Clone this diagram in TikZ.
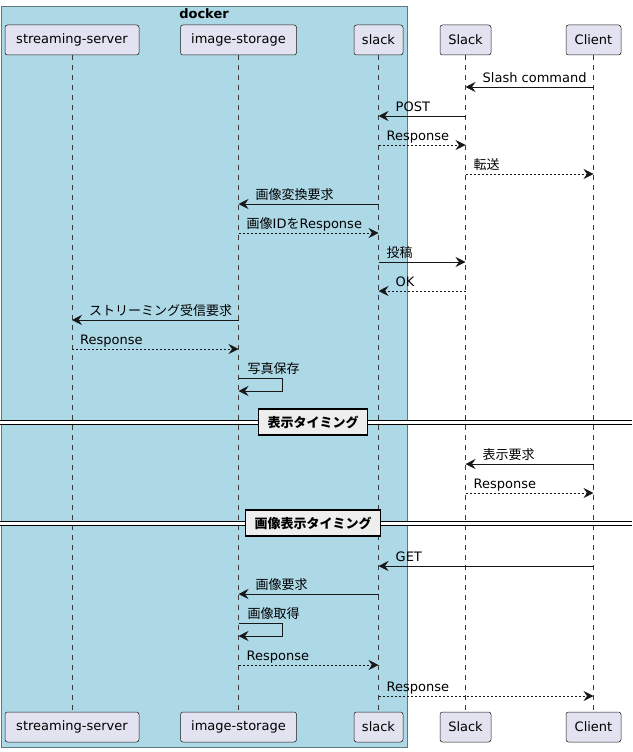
\documentclass[tikz,border=0pt]{standalone}
\usepackage{fontspec}
\setmainfont{DejaVu Sans}
\newfontfamily\jp{Noto Sans CJK JP}
\usetikzlibrary{
  arrows.meta,
  positioning,
  calc
}
\definecolor{partfill}{HTML}{E2E2F0}
\definecolor{partline}{HTML}{181818}
\definecolor{dockerfill}{HTML}{ADD8E6}
\definecolor{dockerline}{RGB}{95,120,130}
\definecolor{divfill}{HTML}{EEEEEE}
\tikzset{
  part/.style={
    rectangle, rounded corners=2.5pt,
    fill=partfill, draw=partline, line width=0.5pt,
    minimum width=#1, minimum height=30pt, inner sep=0pt,
    font=\fontsize{13}{15}\selectfont
  },
  life/.style={draw=partline!85, line width=0.5pt, dash pattern=on 5pt off 5pt},
  call/.style={-{Stealth[length=10pt,width=10pt,inset=3.5pt]}, draw=partline, line width=1pt},
  ret/.style={call, dash pattern=on 2pt off 2pt},
  lbl/.style={anchor=base west, inner sep=0pt, font=\fontsize{13}{15}\selectfont},
  divider/.style={
    rectangle, fill=divfill, draw=black, line width=1.6pt,
    inner xsep=9pt, minimum height=26pt,
    font=\bfseries\fontsize{13}{15}\selectfont
  }
}
\begin{document}
\begin{tikzpicture}[x=1pt,y=-1pt]
  \useasboundingbox (0,0) rectangle (632,752);

  %% docker box
  \draw[fill=dockerfill, draw=dockerline, line width=0.8pt] (1.5,6) rectangle (407,747);
  \node[font=\bfseries\fontsize{13}{15}\selectfont] (docker) at (204,14) {docker};

  %% Participants
  \foreach \p/\x/\w/\t in {ss/72/134/streaming-server, is/238.5/116/image-storage,
      sk/378.5/49/slack, SL/465.5/51/Slack, CL/593.5/55/Client}{
    \node[part=\w pt] (\p) at (\x,40) {\t};
    \node[part=\w pt] (\p-b) at (\x,727) {\t};
    \draw[life] (\p.south) -- (\p-b.north);
  }

  %% Messages to the left (label after the head)
  \foreach \y/\a/\b/\s/\t in {87/CL/SL/call/Slash command, 116/SL/sk/call/POST,
      204/sk/is/call/{\jp 画像変換要求}, 291/SL/sk/ret/OK,
      320/is/ss/call/{\jp ストリーミング受信要求}, 464/CL/SL/call/{\jp 表示要求},
      566/CL/sk/call/GET, 594/sk/is/call/{\jp 画像要求}}{
    \draw[\s] (\a |- 0,\y) -- (\b |- 0,\y) coordinate (e\y);
    \node[lbl] (t\y) at ([shift={(17,-5)}]e\y) {\t};
  }

  %% Messages to the right (label after the tail)
  \foreach \y/\a/\b/\s/\t in {145/sk/SL/ret/Response, 174/SL/CL/ret/{\jp 転送},
      233/is/sk/ret/{{\jp 画像}ID{\jp を}Response}, 262/sk/SL/call/{\jp 投稿},
      349/ss/is/ret/Response, 493/SL/CL/ret/Response,
      665/is/sk/ret/Response, 696/sk/CL/ret/Response}{
    \draw[\s] (\a |- 0,\y) coordinate (s\y) -- (\b |- 0,\y);
    \node[lbl] (t\y) at ([shift={(8,-5)}]s\y) {\t};
  }

  %% Self messages
  \foreach \y/\t in {378/{\jp 写真保存}, 623/{\jp 画像取得}}{
    \draw[call] (is |- 0,\y) coordinate (s\y) -- ++(44,0) -- ++(0,13) -- (is |- 0,\y+13);
    \node[lbl] (t\y) at ([shift={(9,-5)}]s\y) {\t};
  }

  %% Dividers
  \foreach \y/\n/\t in {422/d1/{\jp\bfseries 表示タイミング}, 523/d2/{\jp\bfseries 画像表示タイミング}}{
    \fill[white] (0,\y-2) rectangle (632,\y+2);
    \draw[line width=0.9pt] (0,\y-2) -- (632,\y-2) (0,\y+2) -- (632,\y+2);
    \node[divider] (\n) at (313,\y) {\t};
  }

\end{tikzpicture}
\end{document}
